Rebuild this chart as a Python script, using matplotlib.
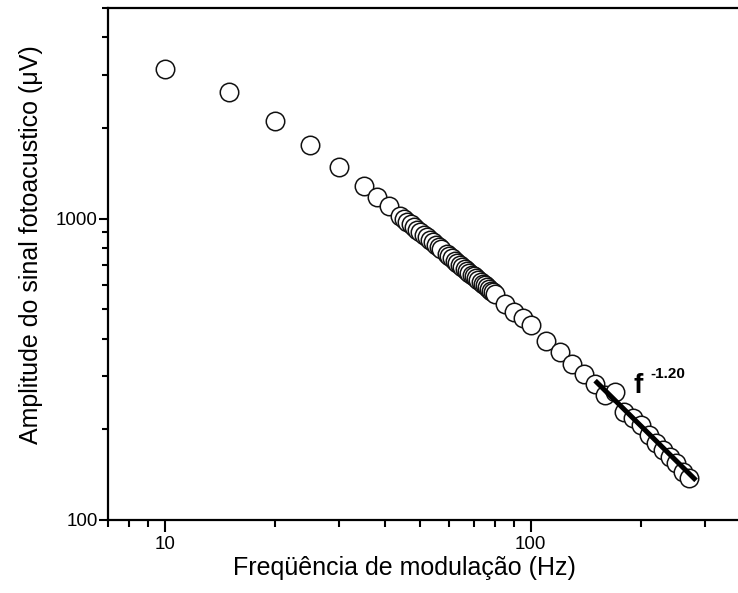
import numpy as np
import matplotlib
matplotlib.use("Agg")
import matplotlib.pyplot as plt
from matplotlib.ticker import LogLocator, NullFormatter, FixedLocator, FixedFormatter

plt.rcParams['font.family'] = ['Liberation Sans', 'DejaVu Sans']

# Modulation frequency (Hz) and photoacoustic signal amplitude (uV)
freq_hz = [10, 15, 20, 25, 30, 35, 38, 41,
           44, 45, 46, 47, 48, 49, 50, 51, 52, 53, 54, 55, 56, 57,
           59, 60, 61, 62, 63, 64, 65, 66, 67, 68, 69, 70, 71, 72, 73, 74,
           75, 76, 77, 78, 79, 80,
           85, 90, 95, 100, 110, 120, 130, 140, 150, 160, 170, 180, 190,
           200, 210, 220, 230, 240, 250, 260, 270]
amplitude_uv = [3140, 2630, 2105, 1760, 1486, 1280, 1183, 1105,
                1023, 1000, 978, 958, 938, 919, 900, 883, 866, 849, 834, 818, 804, 790,
                763, 750, 738, 726, 714, 703, 692, 682, 672, 662, 652, 643, 634, 625, 617, 608,
                600, 592, 585, 577, 570, 563,
                522, 491, 469, 444, 392, 362, 330, 305, 283, 260, 266, 228, 218,
                207, 192, 180, 171, 162, 155, 144, 138]

# Power-law fit over the high-frequency range
fit_exponent = -1.20
fit_f_range = [150, 283]
fit_amp_at_start = 290

x_limits = [7, 400]
y_limits = [100, 5000]
x_major = [10, 100]
y_major = [100, 1000]

fig = plt.figure(figsize=(7.38, 5.93), dpi=100)
W, H = 738.0, 593.0
ax = fig.add_axes([108 / W, 73 / H, 643 / W, 512 / H])

ax.set_xscale('log')
ax.set_yscale('log')
ax.set_xlim(*x_limits)
ax.set_ylim(*y_limits)

ax.plot(freq_hz, amplitude_uv, linestyle='none', marker='o', markersize=13.3,
        markerfacecolor='white', markeredgecolor='#111111', markeredgewidth=1.1,
        zorder=3)

fit_f = np.geomspace(fit_f_range[0], fit_f_range[1], 50)
fit_a = fit_amp_at_start * (fit_f / fit_f_range[0]) ** fit_exponent
ax.plot(fit_f, fit_a, color='black', linewidth=3.6, solid_capstyle='butt', zorder=4)

# Exponent label next to the fitted line
fig.text(633 / W, 1 - 393 / H, 'f', fontsize=20, fontweight='bold',
         ha='left', va='baseline')
fig.text(650 / W, 1 - 378 / H, '-1.20', fontsize=11, fontweight='bold',
         ha='left', va='baseline')

# Axes frame: left, bottom and top spines
for side in ['left', 'bottom', 'top']:
    ax.spines[side].set_linewidth(1.6)
    ax.spines[side].set_color('black')
ax.spines['right'].set_visible(False)

ax.xaxis.set_major_locator(FixedLocator(x_major))
ax.xaxis.set_major_formatter(FixedFormatter([str(v) for v in x_major]))
ax.xaxis.set_minor_locator(LogLocator(base=10, subs=np.arange(2, 10)))
ax.xaxis.set_minor_formatter(NullFormatter())
ax.yaxis.set_major_locator(FixedLocator(y_major))
ax.yaxis.set_major_formatter(FixedFormatter([str(v) for v in y_major]))
ax.yaxis.set_minor_locator(LogLocator(base=10, subs=np.arange(2, 10)))
ax.yaxis.set_minor_formatter(NullFormatter())

ax.tick_params(axis='x', which='major', direction='out', length=8.5, width=1.5,
               labelsize=13.5, pad=3, top=False)
ax.tick_params(axis='x', which='minor', direction='out', length=5, width=1.5, top=False)
ax.tick_params(axis='y', which='major', direction='out', length=6.5, width=1.5,
               labelsize=13.5, pad=1, right=False)
ax.tick_params(axis='y', which='minor', direction='out', length=4, width=1.5, right=False)

fig.text(404 / W, 1 - 568 / H, 'Freqüência de modulação (Hz)', fontsize=18,
         ha='center', va='center')
fig.text(31 / W, 1 - 245 / H, 'Amplitude do sinal fotoacustico (\u03bcV)', fontsize=18,
         ha='center', va='center', rotation=90)

fig.savefig('out.png', dpi=100)
